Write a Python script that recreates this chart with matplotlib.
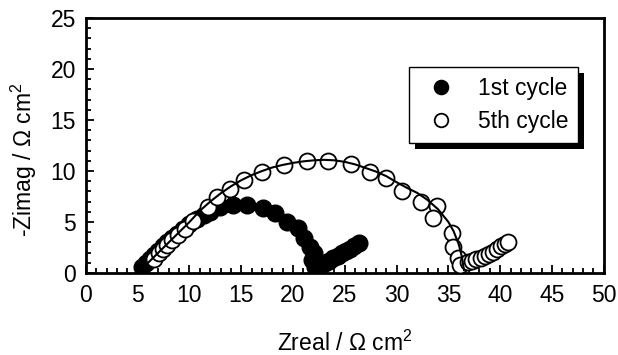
import matplotlib
matplotlib.use("Agg")
import matplotlib.pyplot as plt
from matplotlib.patches import Rectangle
from matplotlib.transforms import IdentityTransform
from matplotlib.ticker import MultipleLocator

#fonts
plt.rcParams['font.family'] = ['Liberation Sans', 'DejaVu Sans']
plt.rcParams['mathtext.fontset'] = 'custom'
plt.rcParams['mathtext.rm'] = 'Liberation Sans'
plt.rcParams['mathtext.default'] = 'regular'

#data
zreal_1st = [5.4, 5.8, 6.2, 6.6, 7.0, 7.4, 7.8, 8.3, 8.8, 9.4, 10.0, 10.7, 11.4, 12.0,
             12.9, 14.2, 15.6, 17.1, 18.3, 19.4, 20.5, 21.1, 21.6, 22.0, 21.8, 22.1,
             22.3, 22.7, 23.1, 23.5, 23.9, 24.3, 24.7, 25.1, 25.5, 25.9, 26.4]
zimag_1st = [0.6, 1.0, 1.4, 1.8, 2.2, 2.6, 3.0, 3.4, 3.8, 4.3, 4.8, 5.3, 5.7, 6.0,
             6.45, 6.65, 6.65, 6.4, 5.9, 5.0, 4.4, 3.4, 2.55, 1.95, 1.25, 0.6,
             0.5, 0.75, 1.0, 1.2, 1.45, 1.7, 1.95, 2.2, 2.4, 2.65, 2.95]

zreal_5th = [6.6, 7.1, 7.4, 7.8, 8.3, 8.9, 9.6, 10.3, 11.8, 12.7, 13.9, 15.3, 17.0,
             19.1, 21.3, 23.4, 25.6, 27.4, 29.0, 30.5, 32.4, 33.85, 33.5, 35.3, 35.4,
             35.9, 36.1, 36.9, 37.3, 37.7, 38.1, 38.5, 38.9, 39.3, 39.7, 40.1, 40.5, 40.8]
zimag_5th = [1.4, 1.95, 2.35, 2.75, 3.25, 3.75, 4.3, 5.1, 6.45, 7.45, 8.25, 9.1, 9.9,
             10.6, 11.0, 11.0, 10.7, 9.9, 9.3, 8.05, 7.0, 6.55, 5.35, 3.95, 2.55,
             1.5, 0.8, 1.1, 1.2, 1.35, 1.5, 1.7, 1.9, 2.1, 2.35, 2.6, 2.85, 3.05]

#fitted arc for the 5th cycle
zreal_fit = [5.3, 6, 7, 8, 9, 10, 11, 12, 13, 14, 15, 16, 17, 18, 19, 20, 21, 22, 23,
             24, 25, 26, 27, 28, 29, 30, 31, 32, 33, 34, 35, 35.5, 36, 36.3, 36.5]
zimag_fit = [0.1, 1.0, 2.0, 3.0, 4.0, 5.0, 6.1, 7.0, 7.8, 8.5, 9.1, 9.6, 10.0, 10.35,
             10.6, 10.8, 10.95, 11.05, 11.1, 11.05, 10.9, 10.65, 10.3, 9.95, 9.5, 8.9,
             8.35, 7.85, 7.15, 6.25, 5.0, 4.1, 2.8, 1.6, 0.3]

labels = ["1st cycle", "5th cycle"]
X_LABEL = r"Zreal / Ω cm$^2$"
Y_LABEL = r"-Zimag / Ω cm$^2$"

#style constants
MARKER_SIZE = 12
FONT_SIZE = 16.5
LEGEND_FONT = 16.5
SHADOW_PX = 6

fig = plt.figure(figsize=(6.18, 3.55), dpi=100)
ax = fig.add_axes([0.139, 0.231, 0.838, 0.718])

ax.plot(zreal_1st, zimag_1st, 'o', color='k', markersize=MARKER_SIZE,
        label=labels[0], zorder=2)
ax.plot(zreal_5th, zimag_5th, 'o', markerfacecolor='white', markeredgecolor='k',
        markeredgewidth=1.3, markersize=MARKER_SIZE - 0.5, label=labels[1], zorder=3)
ax.plot(zreal_fit, zimag_fit, '-', color='k', linewidth=1.5, zorder=4)

#axes set-up
ax.set_xlim(0, 50)
ax.set_ylim(0, 25)
ax.xaxis.set_major_locator(MultipleLocator(5))
ax.xaxis.set_minor_locator(MultipleLocator(1))
ax.yaxis.set_major_locator(MultipleLocator(5))
ax.yaxis.set_minor_locator(MultipleLocator(1))
ax.tick_params(which='both', direction='in', top=False, right=False,
               labelsize=FONT_SIZE, width=1.3, pad=7)
ax.tick_params(axis='x', pad=8)
ax.tick_params(which='major', length=6)
ax.tick_params(which='minor', length=3.5)
for s in ax.spines.values():
    s.set_linewidth(2)

ax.set_xlabel(X_LABEL, fontsize=FONT_SIZE, labelpad=17)
ax.set_ylabel(Y_LABEL, fontsize=FONT_SIZE)
ax.yaxis.set_label_coords(-0.09, 0.443)

#legend with a hard black shadow
leg = ax.legend(loc='upper center', bbox_to_anchor=(0.787, 0.808), fontsize=LEGEND_FONT,
                fancybox=False, edgecolor='k', framealpha=1, borderpad=0.42,
                handlelength=2.0, handletextpad=0.6, labelspacing=0.45,
                borderaxespad=0, markerscale=0.85)
leg.get_frame().set_linewidth(1.0)
leg.set_zorder(10)

fig.canvas.draw()
bb = leg.get_window_extent()
ax.add_patch(Rectangle((bb.x0 + SHADOW_PX, bb.y0 - SHADOW_PX), bb.width, bb.height,
                       transform=IdentityTransform(), facecolor='k', edgecolor='none',
                       zorder=9, clip_on=False))

fig.savefig("out.png", dpi=100)
